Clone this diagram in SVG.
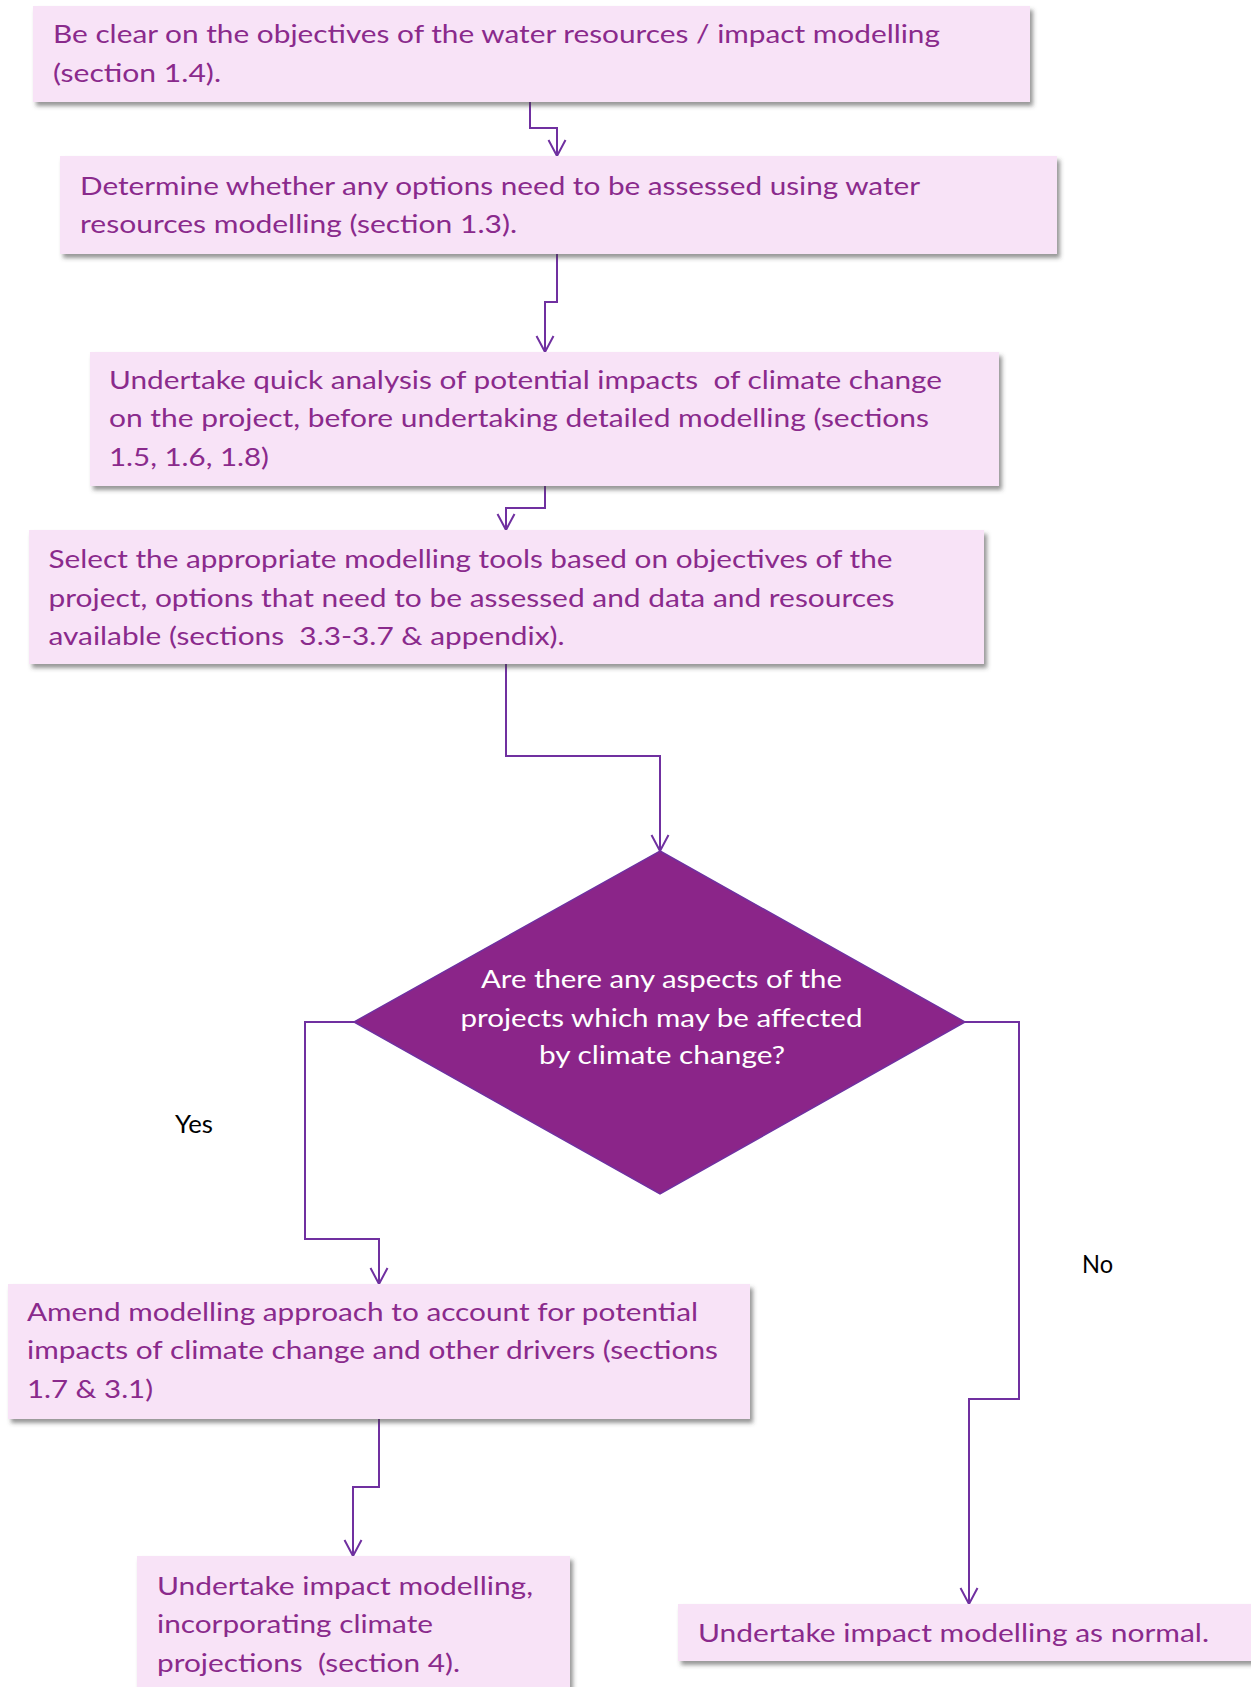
<svg xmlns="http://www.w3.org/2000/svg" width="1251" height="1687" viewBox="0 0 1251 1687">
  <style>
    .box { fill: #F8E3F7; filter: url(#shadow); }
    .txt { font-family: Lato, "Liberation Sans", sans-serif; font-size: 25px; fill: #8A2A8C; white-space: pre; }
    .dtxt { font-family: Lato, "Liberation Sans", sans-serif; font-size: 25px; fill: #FFFFFF; text-anchor: middle; }
    .lbl { font-family: Lato, "Liberation Sans", sans-serif; font-size: 25px; fill: #000000; }
    .conn { fill: none; stroke: #7030A0; stroke-width: 2; marker-end: url(#arrow); }
  </style>
  <defs>
    <filter id="shadow" x="-5%" y="-10%" width="115%" height="130%">
      <feDropShadow dx="3" dy="4" stdDeviation="2" flood-color="#404040" flood-opacity="0.55"/>
    </filter>
    <marker id="arrow" viewBox="0 0 20 20" refX="18" refY="10" markerWidth="20" markerHeight="20" markerUnits="userSpaceOnUse" orient="auto">
      <path d="M2,1.5 L18,10 L2,18.5" fill="none" stroke="#7030A0" stroke-width="2"/>
    </marker>
  </defs>

  <rect width="1251" height="1687" fill="#FFFFFF"/>

  <!-- connectors -->
  <g id="connectors">
    <path class="conn" d="M530,102 V128 H557 V156"/>
    <path class="conn" d="M557,254 V302 H545 V352"/>
    <path class="conn" d="M545,486 V508 H506 V530"/>
    <path class="conn" d="M506,664 V756 H660 V851"/>
    <path class="conn" d="M354,1022 H305 V1239 H379 V1284"/>
    <path class="conn" d="M379,1419 V1487 H353 V1556"/>
    <path class="conn" d="M965,1022 H1019 V1399 H969 V1604"/>
    <text class="lbl" x="175" y="1133" textLength="38" lengthAdjust="spacingAndGlyphs">Yes</text>
    <text class="lbl" x="1082" y="1273" textLength="31" lengthAdjust="spacingAndGlyphs">No</text>
  </g>

  <g id="objectives">
    <rect class="box" x="33" y="6" width="997" height="96"/>
    <text class="txt" x="53" y="43" textLength="887" lengthAdjust="spacingAndGlyphs">Be clear on the objectives of the water resources / impact modelling</text>
    <text class="txt" x="53" y="81.5" textLength="168" lengthAdjust="spacingAndGlyphs">(section 1.4).</text>
  </g>

  <g id="options">
    <rect class="box" x="60" y="156" width="997" height="98"/>
    <text class="txt" x="80" y="195" textLength="840" lengthAdjust="spacingAndGlyphs">Determine whether any options need to be assessed using water</text>
    <text class="txt" x="80" y="233" textLength="437" lengthAdjust="spacingAndGlyphs">resources modelling (section 1.3).</text>
  </g>

  <g id="quick-analysis">
    <rect class="box" x="90" y="352" width="909" height="134"/>
    <text class="txt" x="109" y="389" textLength="833" lengthAdjust="spacingAndGlyphs" xml:space="preserve">Undertake quick analysis of potential impacts  of climate change</text>
    <text class="txt" x="109" y="427" textLength="820" lengthAdjust="spacingAndGlyphs">on the project, before undertaking detailed modelling (sections</text>
    <text class="txt" x="109" y="466" textLength="160" lengthAdjust="spacingAndGlyphs">1.5, 1.6, 1.8)</text>
  </g>

  <g id="select-tools">
    <rect class="box" x="29" y="530" width="955" height="134"/>
    <text class="txt" x="48.5" y="568" textLength="844" lengthAdjust="spacingAndGlyphs">Select the appropriate modelling tools based on objectives of the</text>
    <text class="txt" x="48.5" y="606.5" textLength="846" lengthAdjust="spacingAndGlyphs">project, options that need to be assessed and data and resources</text>
    <text class="txt" x="48.5" y="645" textLength="516" lengthAdjust="spacingAndGlyphs" xml:space="preserve">available (sections  3.3-3.7 &amp; appendix).</text>
  </g>

  <g id="decision">
    <polygon points="660,851 965,1022 660,1194 354,1022" fill="#8B2589" stroke="#7030A0" stroke-width="1.5"/>
    <text class="dtxt" x="661.5" y="987.5" textLength="361" lengthAdjust="spacingAndGlyphs">Are there any aspects of the</text>
    <text class="dtxt" x="661.5" y="1026.8" textLength="402" lengthAdjust="spacingAndGlyphs">projects which may be affected</text>
    <text class="dtxt" x="662" y="1064" textLength="246" lengthAdjust="spacingAndGlyphs">by climate change?</text>
  </g>

  <g id="amend-approach">
    <rect class="box" x="8" y="1284" width="742" height="135"/>
    <text class="txt" x="27" y="1320.5" textLength="671" lengthAdjust="spacingAndGlyphs">Amend modelling approach to account for potential</text>
    <text class="txt" x="27" y="1359" textLength="691" lengthAdjust="spacingAndGlyphs">impacts of climate change and other drivers (sections</text>
    <text class="txt" x="27" y="1398" textLength="126" lengthAdjust="spacingAndGlyphs">1.7 &amp; 3.1)</text>
  </g>

  <g id="impact-with-climate">
    <rect class="box" x="137" y="1556" width="433" height="150"/>
    <text class="txt" x="157" y="1595" textLength="376" lengthAdjust="spacingAndGlyphs">Undertake impact modelling,</text>
    <text class="txt" x="157" y="1633.3" textLength="276" lengthAdjust="spacingAndGlyphs">incorporating climate</text>
    <text class="txt" x="157" y="1671.7" textLength="303" lengthAdjust="spacingAndGlyphs" xml:space="preserve">projections  (section 4).</text>
  </g>

  <g id="impact-normal">
    <rect class="box" x="678" y="1604" width="590" height="57"/>
    <text class="txt" x="698" y="1641.5" textLength="511" lengthAdjust="spacingAndGlyphs">Undertake impact modelling as normal.</text>
  </g>
</svg>
